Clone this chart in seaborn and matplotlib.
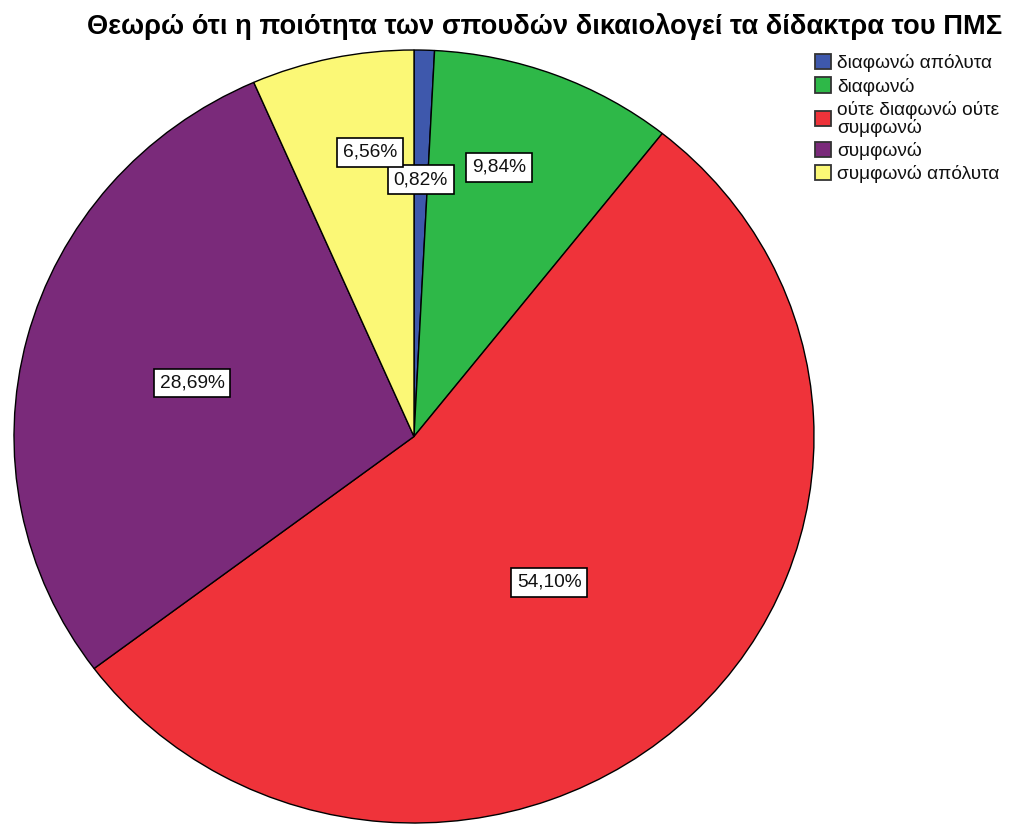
import numpy as np
import matplotlib
matplotlib.use("Agg")
import matplotlib.pyplot as plt
import seaborn as sns
from matplotlib.patches import Patch

# Response categories and their percentage shares
categories = ["διαφωνώ απόλυτα", "διαφωνώ", "ούτε διαφωνώ ούτε\nσυμφωνώ", "συμφωνώ", "συμφωνώ απόλυτα"]
percentages = [0.82, 9.84, 54.10, 28.69, 6.56]
colors = ["#3E58AC", "#2EB848", "#EF333A", "#7A2A7A", "#FBF876"]

title = "Θεωρώ ότι η ποιότητα των σπουδών δικαιολογεί τα δίδακτρα του ΠΜΣ"

# Label placement: radial fraction and angular nudge (degrees) per wedge
label_dist = [0.665, 0.728, 0.507, 0.572, 0.743]
label_nudge = [0.0, 3.7, -2.4, 0.7, -3.3]

sns.set_theme(style="white")
plt.rcParams["font.family"] = ["Liberation Sans", "DejaVu Sans"]

fig = plt.figure(figsize=(10.10, 8.25), dpi=100)
ax = fig.add_axes([14 / 1010, 2 / 825, 800 / 1010, 773 / 825])

wedges, _ = ax.pie(
    percentages,
    colors=colors,
    startangle=90,
    counterclock=False,
    radius=1.0,
    wedgeprops=dict(edgecolor="black", linewidth=1.0),
)
ax.set_xlim(-1.0, 1.0)
ax.set_ylim(-1.0, 1.0)
ax.set_aspect("auto")
ax.axis("off")

# Percentage labels in white boxes, placed along each wedge's mid angle
for w, pct, d, nudge in zip(wedges, percentages, label_dist, label_nudge):
    mid = np.deg2rad((w.theta1 + w.theta2) / 2 + nudge)
    x, y = d * np.cos(mid), d * np.sin(mid)
    ax.text(x, y, f"{pct:.2f}%".replace(".", ","), ha="center", va="center",
            fontsize=13.8, color="#111111",
            bbox=dict(boxstyle="square,pad=0.3", facecolor="white",
                      edgecolor="black", linewidth=1.2))

fig.text(545 / 1010, 1 - 27 / 825, title, ha="center", va="center",
         fontsize=19.6, fontweight="bold", color="black")

handles = [Patch(facecolor=c, edgecolor="#333333", linewidth=1.3) for c in colors]
leg = fig.legend(handles, categories, loc="upper left",
                 bbox_to_anchor=(815 / 1010, 1 - 54 / 825),
                 frameon=False, fontsize=13.8, handlelength=0.85, handleheight=0.85,
                 handletextpad=0.3, labelspacing=0.26, borderaxespad=0.0,
                 borderpad=0.0)
for t in leg.get_texts():
    t.set_linespacing(1.02)
    t.set_color("#111111")

fig.savefig("out.png", dpi=100, facecolor="white")
